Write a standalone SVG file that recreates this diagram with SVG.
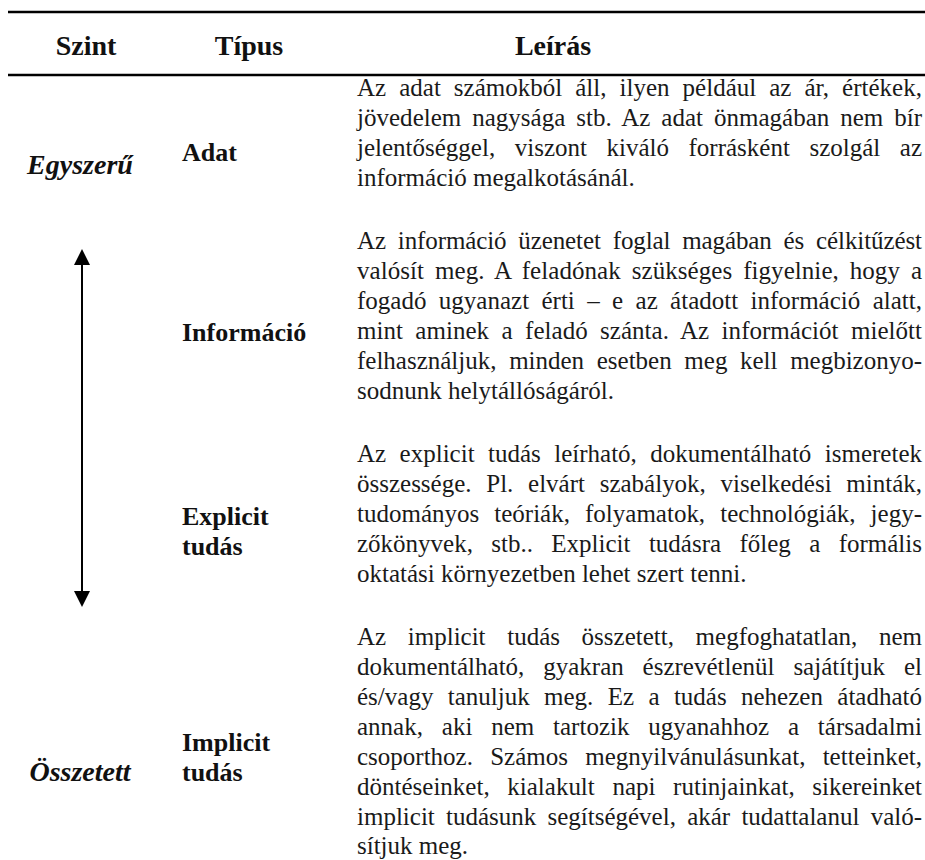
<svg xmlns="http://www.w3.org/2000/svg" width="925" height="860" viewBox="0 0 925 860">
  <style>
    .rule { stroke: #000; stroke-width: 2.5; }
    .head { font-family: "Liberation Serif", "Times New Roman", serif; font-size: 28px; font-weight: bold; fill: #111; }
    .level { font-family: "Liberation Serif", "Times New Roman", serif; font-size: 28px; font-weight: bold; font-style: italic; fill: #111; }
    .type { font-family: "Liberation Serif", "Times New Roman", serif; font-size: 26px; font-weight: bold; fill: #111; }
    .desc { font-family: "Liberation Serif", "Times New Roman", serif; font-size: 25px; fill: #1a1a1a; }
    .axis { stroke: #000; stroke-width: 2; fill: none; }
  </style>
  <defs>
    <marker id="tip" viewBox="0 0 16 16" markerUnits="userSpaceOnUse" markerWidth="16" markerHeight="16" refX="2" refY="8" orient="auto-start-reverse">
      <path d="M0,0 L16,8 L0,16 Z" fill="#000"/>
    </marker>
  </defs>

  <rect width="925" height="860" fill="#fff"/>

  <!-- table rules -->
  <line class="rule" x1="8" y1="12" x2="925" y2="12"/>
  <line class="rule" x1="8" y1="75" x2="925" y2="75"/>

  <!-- column headings -->
  <g id="header">
    <text class="head" x="86" y="55" text-anchor="middle">Szint</text>
    <text class="head" x="249" y="55" text-anchor="middle">Típus</text>
    <text class="head" x="553" y="55" text-anchor="middle">Leírás</text>
  </g>

  <!-- level extremes -->
  <g id="level-simple">
    <text class="level" x="80" y="174" text-anchor="middle">Egyszerű</text>
  </g>
  <g id="level-complex">
    <text class="level" x="80" y="781" text-anchor="middle">Összetett</text>
  </g>

  <!-- row: data -->
  <g id="row-adat">
    <text class="type" x="182" y="161">Adat</text>
    <g class="desc">
      <text x="357" y="96" word-spacing="6.7" textLength="565" lengthAdjust="spacing">Az adat számokból áll, ilyen például az ár, értékek,</text>
      <text x="357" y="126" word-spacing="4.6" textLength="565" lengthAdjust="spacing">jövedelem nagysága stb. Az adat önmagában nem bír</text>
      <text x="357" y="156" word-spacing="13.3" textLength="565" lengthAdjust="spacing">jelentőséggel, viszont kiváló forrásként szolgál az</text>
      <text x="357" y="186">információ megalkotásánál.</text>
    </g>
  </g>

  <!-- row: information -->
  <g id="row-informacio">
    <text class="type" x="182" y="341">Információ</text>
    <g class="desc">
      <text x="357" y="249" word-spacing="5.7" textLength="565" lengthAdjust="spacing">Az információ üzenetet foglal magában és célkitűzést</text>
      <text x="357" y="279" word-spacing="4.6" textLength="565" lengthAdjust="spacing">valósít meg. A feladónak szükséges figyelnie, hogy a</text>
      <text x="357" y="309" word-spacing="6.1" textLength="565" lengthAdjust="spacing">fogadó ugyanazt érti – e az átadott információ alatt,</text>
      <text x="357" y="339" word-spacing="6.1" textLength="565" lengthAdjust="spacing">mint aminek a feladó szánta. Az információt mielőtt</text>
      <text x="357" y="369" word-spacing="6.4" textLength="565" lengthAdjust="spacing">felhasználjuk, minden esetben meg kell megbizonyo-</text>
      <text x="357" y="399">sodnunk helytállóságáról.</text>
    </g>
  </g>

  <!-- row: explicit knowledge -->
  <g id="row-explicit">
    <text class="type" x="182" y="525">Explicit</text>
    <text class="type" x="182" y="555">tudás</text>
    <g class="desc">
      <text x="357" y="462" word-spacing="7.2" textLength="565" lengthAdjust="spacing">Az explicit tudás leírható, dokumentálható ismeretek</text>
      <text x="357" y="492" word-spacing="8.5" textLength="565" lengthAdjust="spacing">összessége. Pl. elvárt szabályok, viselkedési minták,</text>
      <text x="357" y="522" word-spacing="8.8" textLength="565" lengthAdjust="spacing">tudományos teóriák, folyamatok, technológiák, jegy-</text>
      <text x="357" y="552" word-spacing="12.1" textLength="565" lengthAdjust="spacing">zőkönyvek, stb.. Explicit tudásra főleg a formális</text>
      <text x="357" y="582">oktatási környezetben lehet szert tenni.</text>
    </g>
  </g>

  <!-- row: implicit knowledge -->
  <g id="row-implicit">
    <text class="type" x="182" y="751">Implicit</text>
    <text class="type" x="182" y="781">tudás</text>
    <g class="desc">
      <text x="357" y="645" word-spacing="15.4" textLength="565" lengthAdjust="spacing">Az implicit tudás összetett, megfoghatatlan, nem</text>
      <text x="357" y="675" word-spacing="12.6" textLength="565" lengthAdjust="spacing">dokumentálható, gyakran észrevétlenül sajátítjuk el</text>
      <text x="357" y="705" word-spacing="8.1" textLength="565" lengthAdjust="spacing">és/vagy tanuljuk meg. Ez a tudás nehezen átadható</text>
      <text x="357" y="735" word-spacing="12.6" textLength="565" lengthAdjust="spacing">annak, aki nem tartozik ugyanahhoz a társadalmi</text>
      <text x="357" y="765" word-spacing="11" textLength="565" lengthAdjust="spacing">csoporthoz. Számos megnyilvánulásunkat, tetteinket,</text>
      <text x="357" y="795" word-spacing="11.4" textLength="565" lengthAdjust="spacing">döntéseinket, kialakult napi rutinjainkat, sikereinket</text>
      <text x="357" y="825" word-spacing="5" textLength="565" lengthAdjust="spacing">implicit tudásunk segítségével, akár tudattalanul való-</text>
      <text x="357" y="854">sítjuk meg.</text>
    </g>
  </g>

  <!-- double-headed scale between the two levels -->
  <g id="connectors">
    <line class="axis" x1="82" y1="263" x2="82" y2="593" marker-start="url(#tip)" marker-end="url(#tip)"/>
  </g>
</svg>
